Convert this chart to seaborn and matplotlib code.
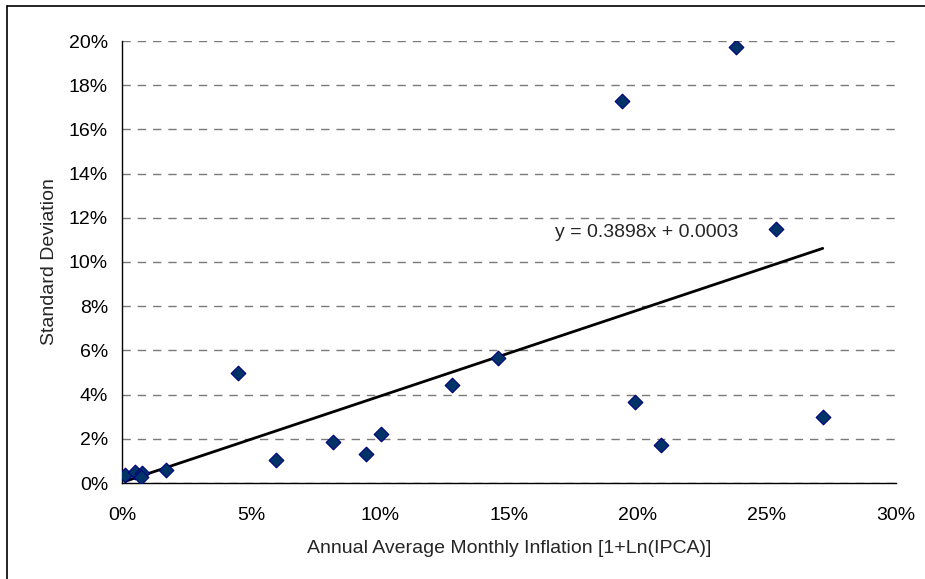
import numpy as np
import pandas as pd
import matplotlib
matplotlib.use("Agg")
import matplotlib.pyplot as plt
from matplotlib.lines import Line2D
from matplotlib.ticker import PercentFormatter
import seaborn as sns

# Data
inflation = [0.0012, 0.0050, 0.0076, 0.0074, 0.0169, 0.0451, 0.0595, 0.0817,
             0.0946, 0.1004, 0.1280, 0.1459, 0.1938, 0.1988, 0.2089, 0.2380,
             0.2533, 0.2716]
std_dev = [0.0036, 0.0051, 0.0047, 0.0029, 0.0057, 0.0498, 0.0104, 0.0186,
           0.0131, 0.0222, 0.0443, 0.0566, 0.1729, 0.0367, 0.0172, 0.1973,
           0.1149, 0.0299]
slope, intercept = 0.3898, 0.0003
x_ticks = [0, 0.05, 0.10, 0.15, 0.20, 0.25, 0.30]
y_ticks = [0, 0.02, 0.04, 0.06, 0.08, 0.10, 0.12, 0.14, 0.16, 0.18, 0.20]
x_label = "Annual Average Monthly Inflation [1+Ln(IPCA)]"
y_label = "Standard Deviation"
eq_text = "y = 0.3898x + 0.0003"

df = pd.DataFrame({"x": inflation, "y": std_dev})

sns.set_theme(style="white")
plt.rcParams["font.family"] = ["Liberation Sans", "DejaVu Sans"]

FS = 14

fig = plt.figure(figsize=(9.25, 5.79), dpi=100)
ax = fig.add_axes([122 / 925, 1 - 483 / 579, (896 - 122) / 925, (483 - 41) / 579])

# trendline
xl = np.array([min(inflation), max(inflation)])
ax.plot(xl, slope * xl + intercept, color="black", lw=2, zorder=2)

sns.scatterplot(data=df, x="x", y="y", marker="D", s=56, color="#003366",
                edgecolor="#000080", linewidth=0.8, ax=ax, zorder=3, legend=False)

ax.set_xlim(0, 0.30)
ax.set_ylim(0, 0.20)
ax.set_xticks(x_ticks)
ax.set_yticks(y_ticks)
ax.xaxis.set_major_formatter(PercentFormatter(1.0, decimals=0))
ax.yaxis.set_major_formatter(PercentFormatter(1.0, decimals=0))
ax.tick_params(axis="both", labelsize=FS, colors="black", direction="out",
               length=5, width=1, pad=5)
ax.tick_params(axis="x", pad=12)
ax.yaxis.grid(True, color="#7a7a7a", linestyle=(0, (6, 5)), linewidth=1)
ax.xaxis.grid(False)
ax.set_axisbelow(True)
for side in ["top", "right"]:
    ax.spines[side].set_visible(False)
for side in ["left", "bottom"]:
    ax.spines[side].set_color("black")
    ax.spines[side].set_linewidth(1)

ax.set_xlabel(x_label, fontsize=FS, labelpad=12)
ax.set_ylabel(y_label, fontsize=FS, labelpad=8)
ax.text(0.168, 0.1095, eq_text, fontsize=FS, ha="left", va="bottom")

# chart area frame (top and left edges visible)
fig.add_artist(Line2D([7 / 925, 1], [1 - 6 / 579, 1 - 6 / 579], color="black", lw=1.2,
                      transform=fig.transFigure))
fig.add_artist(Line2D([7 / 925, 7 / 925], [0, 1 - 6 / 579], color="black", lw=1.2,
                      transform=fig.transFigure))

fig.savefig("out.png", dpi=100)
